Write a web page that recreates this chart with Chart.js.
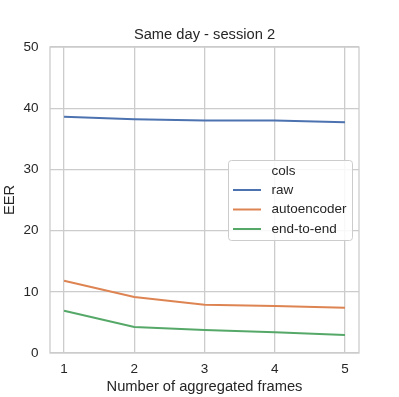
<!DOCTYPE html>
<html>
<head>
<meta charset="utf-8">
<script src="https://cdn.jsdelivr.net/npm/chart.js@4"></script>
<style>
  html, body { margin: 0; padding: 0; background: #fff; }
  #wrap { width: 399px; height: 397px; }
</style>
</head>
<body>
<div id="wrap"><canvas id="eerChart" width="399" height="397"></canvas></div>
<script>
// Data
const frames = [1, 2, 3, 4, 5];
const rawEER = [38.6, 38.2, 38.0, 38.0, 37.7];
const autoencoderEER = [11.8, 9.15, 7.9, 7.7, 7.4];
const endToEndEER = [6.9, 4.25, 3.75, 3.4, 2.95];
const yTicks = [0, 10, 20, 30, 40, 50];

const seriesNames = ['raw', 'autoencoder', 'end-to-end'];
const seriesColors = ['#4c72b0', '#dd8452', '#55a868'];
const gridColor = '#cccccc';
const textColor = '#262626';
const fontFamily = '"Liberation Sans", Arial, sans-serif';

function toPoints(values) {
    return frames.map((f, i) => ({ x: f, y: values[i] }));
}

// Frame around plot area + seaborn-style legend box
const framePlugin = {
    id: 'framePlugin',
    afterDatasetsDraw(chart) {
        const { ctx, chartArea: a } = chart;
        ctx.save();
        ctx.strokeStyle = gridColor;
        ctx.lineWidth = 1.3;
        ctx.strokeRect(a.left, a.top, a.right - a.left, a.bottom - a.top);
        ctx.restore();
    },
    afterDraw(chart) {
        const { ctx } = chart;
        const x0 = 228, y0 = 160, w = 124, h = 80, r = 3;
        ctx.save();
        ctx.beginPath();
        ctx.roundRect(x0 + 0.5, y0 + 0.5, w, h, r);
        ctx.fillStyle = 'rgba(255,255,255,0.85)';
        ctx.fill();
        ctx.strokeStyle = gridColor;
        ctx.lineWidth = 1;
        ctx.stroke();

        ctx.font = '13.5px ' + fontFamily;
        ctx.fillStyle = textColor;
        ctx.textBaseline = 'middle';
        ctx.textAlign = 'left';
        ctx.fillText('cols', 271.5, 171);

        const rows = [190, 209.5, 229];
        seriesNames.forEach((name, i) => {
            ctx.beginPath();
            ctx.strokeStyle = seriesColors[i];
            ctx.lineWidth = 2;
            ctx.moveTo(233, rows[i]);
            ctx.lineTo(261, rows[i]);
            ctx.stroke();
            ctx.fillStyle = textColor;
            ctx.fillText(name, 271.5, rows[i]);
        });
        ctx.restore();
    }
};

const datasets = [rawEER, autoencoderEER, endToEndEER].map((vals, i) => ({
    label: seriesNames[i],
    data: toPoints(vals),
    borderColor: seriesColors[i],
    backgroundColor: seriesColors[i],
    borderWidth: 2,
    pointRadius: 0,
    tension: 0,
    fill: false
}));

new Chart(document.getElementById('eerChart').getContext('2d'), {
    type: 'line',
    data: { datasets },
    plugins: [framePlugin],
    options: {
        responsive: false,
        animation: false,
        // left padding shifts the title so it is centred over the plot area
        layout: { padding: { left: 10, right: 0, top: 0, bottom: 0 } },
        plugins: {
            legend: { display: false },
            tooltip: { enabled: false },
            title: {
                display: true,
                text: 'Same day - session 2',
                color: textColor,
                font: { family: fontFamily, size: 14.7, weight: 'normal' },
                padding: { top: 26, bottom: 3.4 }
            }
        },
        scales: {
            x: {
                type: 'linear',
                min: 0.8,
                max: 5.2,
                afterFit(scale) { scale.height = 44; },
                grid: { color: gridColor, lineWidth: 1.3, drawTicks: false },
                border: { display: false },
                ticks: {
                    stepSize: 1,
                    includeBounds: false,
                    padding: 8,
                    color: textColor,
                    font: { family: fontFamily, size: 13.5 }
                },
                title: {
                    display: true,
                    text: 'Number of aggregated frames',
                    color: textColor,
                    font: { family: fontFamily, size: 14.7 },
                    padding: { top: 0, bottom: 1 }
                }
            },
            y: {
                min: 0,
                max: 50,
                afterFit(scale) { scale.width = 40; },
                afterBuildTicks(scale) { scale.ticks = yTicks.map(v => ({ value: v })); },
                grid: { color: gridColor, lineWidth: 1.3, drawTicks: false },
                border: { display: false },
                ticks: {
                    padding: 11.5,
                    color: textColor,
                    font: { family: fontFamily, size: 13.5 }
                },
                title: {
                    display: true,
                    text: 'EER',
                    color: textColor,
                    font: { family: fontFamily, size: 14.7 },
                    padding: { top: -9, bottom: 0 }
                }
            },
            // empty right-hand axis that only reserves space
            yRight: {
                position: 'right',
                min: 0,
                max: 50,
                afterFit(scale) { scale.width = 40; },
                grid: { display: false },
                border: { display: false },
                ticks: { display: false }
            }
        }
    }
});
</script>
</body>
</html>
